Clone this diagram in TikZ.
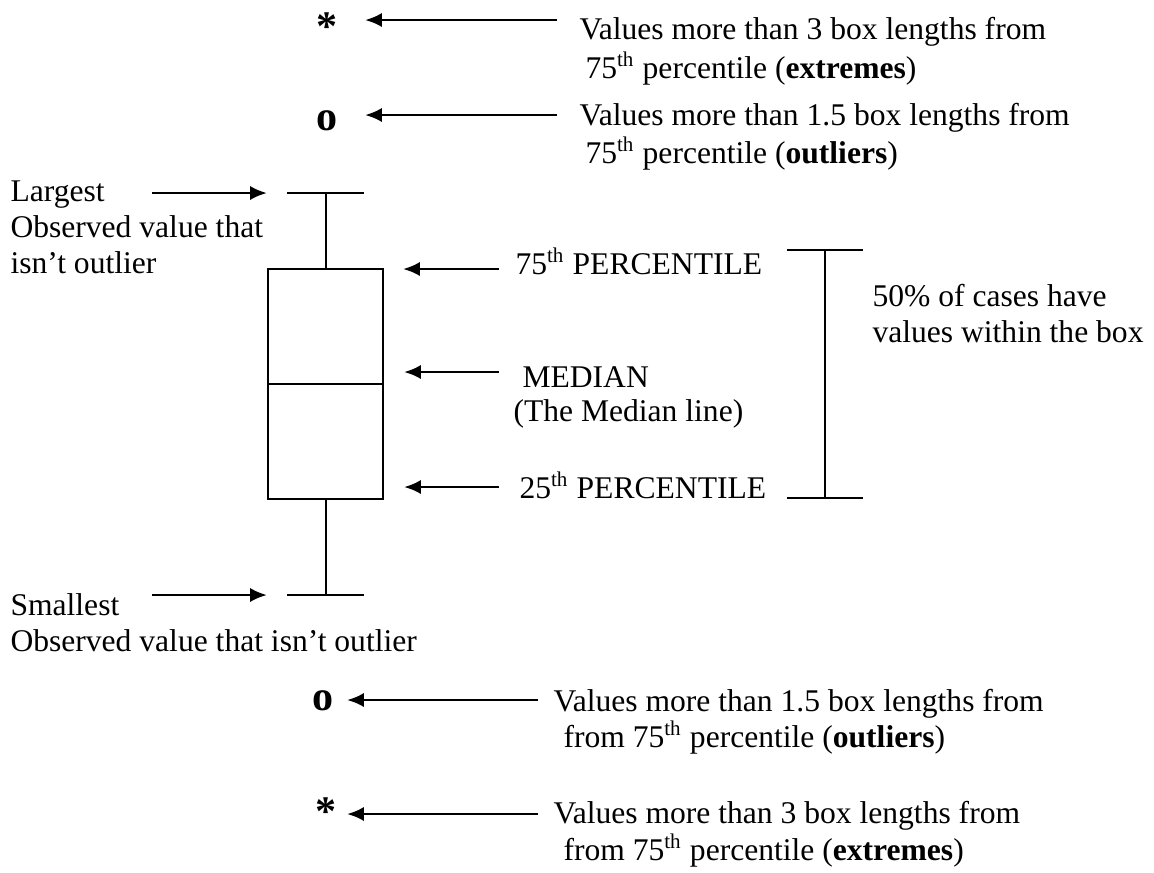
\documentclass[tikz,border=0pt]{standalone}
\usepackage{fontspec}
\setmainfont{Liberation Serif}
\usetikzlibrary{arrows.meta}
\begin{document}
\begin{tikzpicture}[x=0.38pt,y=-0.38pt,
  txt/.style={anchor=base west,inner sep=0pt,font=\fontsize{12}{13.7}\selectfont},
  markglyph/.style={anchor=base,inner sep=0pt,font=\fontsize{16}{18}\selectfont\bfseries},
  arr/.style={line width=1.05pt,-{Latex[length=6.4pt,width=5.4pt]}},
  boxline/.style={line width=0.8pt}]
\useasboundingbox (0,0) rectangle (1154,872);
% ---- top markers and texts
\node[markglyph] (star1) at (327,40) {*};
\node[markglyph] (o1) at (327,130) {o};
\coordinate (s1) at (557,20); \coordinate (e1) at (365,20);
\coordinate (s2) at (557,115); \coordinate (e2) at (365,115);
\draw[arr] (s1) -- (e1);
\draw[arr] (s2) -- (e2);
\node[txt] (t1a) at (579,39) {Values more than 3 box lengths from};
\node[txt] (t1b) at (585,78) {75\textsuperscript{th} percentile (\textbf{extremes})};
\node[txt] (t2a) at (579,125) {Values more than 1.5 box lengths from};
\node[txt] (t2b) at (585,163) {75\textsuperscript{th} percentile (\textbf{outliers})};
% ---- box plot
\coordinate (wtop) at (326,193);
\coordinate (btl) at (268,269);
\coordinate (bbr) at (383,499);
\coordinate (wbot) at (326,595);
\draw[boxline] (287,193) -- (364,193);
\draw[boxline] (wtop) -- (326,269);
\draw[boxline] (btl) rectangle (bbr);
\draw[boxline] (268,384) -- (383,384);
\draw[boxline] (326,499) -- (wbot);
\draw[boxline] (287,595) -- (364,595);
% ---- left labels
\node[txt] (L1) at (10,201) {Largest};
\node[txt] (L2) at (10,237) {Observed value that};
\node[txt] (L3) at (10,273) {isn’t outlier};
\coordinate (ls) at (152,193); \coordinate (le) at (267,193);
\draw[arr] (ls) -- (le);
\node[txt] (S1) at (10,615) {Smallest};
\node[txt] (S2) at (10,651) {Observed value that isn’t outlier};
\coordinate (ss) at (152,595); \coordinate (se) at (267,595);
\draw[arr] (ss) -- (se);
% ---- right labels
\coordinate (p75s) at (499,269); \coordinate (p75e) at (403,269);
\coordinate (meds) at (499,372); \coordinate (mede) at (404,372);
\coordinate (p25s) at (499,487); \coordinate (p25e) at (404,487);
\draw[arr] (p75s) -- (p75e);
\draw[arr] (meds) -- (mede);
\draw[arr] (p25s) -- (p25e);
\node[txt] (p75) at (515,274) {75\textsuperscript{th} PERCENTILE};
\node[txt] (med) at (522,387) {MEDIAN};
\node[txt] (med2) at (513,421) {(The Median line)};
\node[txt] (p25) at (519,498) {25\textsuperscript{th} PERCENTILE};
% ---- bracket
\draw[boxline] (787,250) -- (863,250);
\draw[boxline] (825,250) -- (825,498);
\draw[boxline] (787,498) -- (863,498);
\node[txt] (c1) at (872,306) {50\% of cases have};
\node[txt] (c2) at (872,342) {values within the box};
% ---- bottom markers and texts
\node[markglyph] (o2) at (323,710) {o};
\node[markglyph] (star2) at (326,825) {*};
\coordinate (s3) at (538,700); \coordinate (e3) at (347,700);
\coordinate (s4) at (538,814); \coordinate (e4) at (347,814);
\draw[arr] (s3) -- (e3);
\draw[arr] (s4) -- (e4);
\node[txt] (b1a) at (553,711) {Values more than 1.5 box lengths from};
\node[txt] (b1b) at (563,747) {from 75\textsuperscript{th} percentile (\textbf{outliers})};
\node[txt] (b2a) at (553,823) {Values more than 3 box lengths from};
\node[txt] (b2b) at (563,860) {from 75\textsuperscript{th} percentile (\textbf{extremes})};
\end{tikzpicture}
\end{document}
